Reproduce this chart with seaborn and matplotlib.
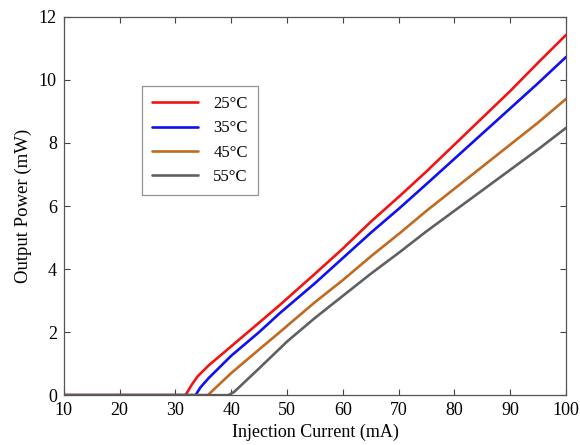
import matplotlib
matplotlib.use("Agg")
import matplotlib.pyplot as plt
import seaborn as sns
import pandas as pd

# values (injection current in mA, power in mW)
cur_25 = [10, 20, 31.8, 33, 34, 36, 40, 45, 48.7, 55, 60, 65, 70.2, 75, 80, 85, 90, 95, 100]
pow_25 = [0, 0, 0, 0.35, 0.6, 0.95, 1.55, 2.3, 2.86, 3.85, 4.65, 5.5, 6.32, 7.1, 7.95, 8.8, 9.65, 10.55, 11.43]

cur_35 = [10, 20, 33.6, 34.5, 36, 40, 45, 48.7, 55, 60, 65, 70.2, 75, 80, 85, 90, 95, 100]
pow_35 = [0, 0, 0, 0.25, 0.55, 1.25, 2.0, 2.6, 3.55, 4.35, 5.15, 5.94, 6.7, 7.5, 8.3, 9.1, 9.9, 10.73]

cur_45 = [10, 20, 35.8, 37, 40, 45, 48.7, 55, 60, 65, 70.2, 75, 80, 85, 90, 95, 100]
pow_45 = [0, 0, 0, 0.2, 0.7, 1.45, 2.0, 2.95, 3.65, 4.4, 5.14, 5.85, 6.55, 7.25, 7.95, 8.65, 9.4]

cur_55 = [10, 20, 39.5, 40.5, 42, 45, 50, 55, 60, 65, 70.2, 75, 80, 85, 90, 95, 100]
pow_55 = [0, 0, 0, 0.1, 0.35, 0.85, 1.7, 2.45, 3.15, 3.85, 4.54, 5.2, 5.85, 6.5, 7.15, 7.8, 8.48]

labels = ["25°C", "35°C", "45°C", "55°C"]
colors = ["#f21414", "#1010f0", "#c06a22", "#606060"]

frames = []
for lab, xs, ys in zip(labels, [cur_25, cur_35, cur_45, cur_55],
                       [pow_25, pow_35, pow_45, pow_55]):
    frames.append(pd.DataFrame({"current": xs, "power": ys, "temp": lab}))
df = pd.concat(frames, ignore_index=True)

sns.set_style("ticks")
plt.rcParams['font.family'] = ['Liberation Serif', 'DejaVu Serif']
plt.rcParams['text.color'] = 'black'
plt.rcParams['axes.labelcolor'] = 'black'
plt.rcParams['xtick.labelcolor'] = 'black'
plt.rcParams['ytick.labelcolor'] = 'black'

fig = plt.figure(figsize=(5.8, 4.45), dpi=100)
ax = fig.add_axes([0.110, 0.112, 0.866, 0.850])

sns.lineplot(data=df, x="current", y="power", hue="temp", palette=colors,
             linewidth=1.9, ax=ax, sort=False, estimator=None)

ax.set_xlim(10, 100)
ax.set_ylim(0, 12)
ax.set_xticks(range(10, 101, 10))
ax.set_yticks(range(0, 13, 2))
ax.tick_params(direction="in", top=True, right=True, labelsize=13,
               length=4, width=0.8, color="#444444", pad=5)
for s in ax.spines.values():
    s.set_color("#555555")
    s.set_linewidth(0.9)

ax.set_xlabel("Injection Current (mA)", fontsize=13, labelpad=3)
ax.set_ylabel("Output Power (mW)", fontsize=13.5, labelpad=5)

leg = ax.legend(loc="upper left", bbox_to_anchor=(0.155, 0.817), fontsize=12,
                frameon=True, fancybox=False, handlelength=2.8,
                borderpad=0.6, labelspacing=0.5, handletextpad=0.9,
                borderaxespad=0)
leg.get_frame().set_edgecolor("#777777")
leg.get_frame().set_linewidth(0.9)

fig.savefig("out.png", dpi=100)
